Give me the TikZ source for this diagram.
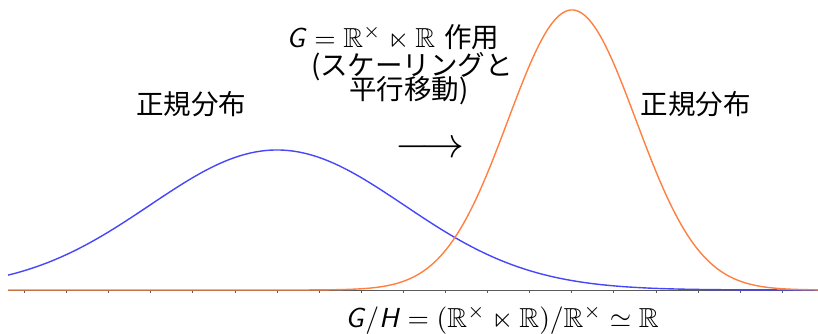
\documentclass[tikz,border=0pt]{standalone}
\usepackage{amssymb}
\usepackage{fontspec}
\newfontfamily\cjk{Noto Sans CJK JP}
\definecolor{bcurve}{RGB}{70,70,250}
\definecolor{ocurve}{RGB}{255,128,64}
\definecolor{axisc}{RGB}{90,90,90}
\newcommand{\sG}{\textsf{\textsl{G}}}
\newcommand{\sH}{\textsf{\textsl{H}}}
\newcommand{\bigtxt}[1]{\scalebox{2.75}{#1}}
\tikzset{
  lbl/.style={inner sep=0pt, outer sep=0pt},
  curve/.style={line width=1.4pt, line join=round},
  axisline/.style={line width=1pt, draw=axisc},
  tickmark/.style={line width=0.8pt, draw=axisc}
}
\begin{document}
\begin{tikzpicture}[x=1pt,y=1pt]
\useasboundingbox (0,0) rectangle (818,-333);
% axis
\draw[axisline] (8,-290) -- (818,-290);
\foreach \k in {-6,...,12} \draw[tickmark] ({277+42.1*\k},-290) -- ++(0,-3);
% curves
\draw[curve, bcurve] plot[domain=8:818, samples=300, smooth] (\x, {-290 + 140*exp(-0.5*((\x-277)/127)^2)});
\draw[curve, ocurve] plot[domain=8:818, samples=400, smooth] (\x, {-290 + 280*exp(-0.5*((\x-572)/64)^2)});
% labels
\node[lbl] (left) at (191,-104) {\bigtxt{\cjk 正規分布}};
\node[lbl] (right) at (695.5,-104) {\bigtxt{\cjk 正規分布}};
\node[lbl, anchor=base] (t1) at (393,-47) {\bigtxt{$\sG=\mathbb{R}^\times\ltimes\mathbb{R}$ {\cjk 作用}}};
\node[lbl, anchor=base] (t2) at (412,-75) {\bigtxt{\cjk (スケーリングと}};
\node[lbl, anchor=base] (t3) at (409,-99) {\bigtxt{\cjk 平行移動)}};
\node[lbl] (arr) at (430,-150) {\scalebox{4.3}{$\longrightarrow$}};
\node[lbl, anchor=base] (bot) at (502,-327) {\bigtxt{$\sG/\sH=(\mathbb{R}^\times\ltimes\mathbb{R})/\mathbb{R}^\times\simeq\mathbb{R}$}};
\end{tikzpicture}
\end{document}
